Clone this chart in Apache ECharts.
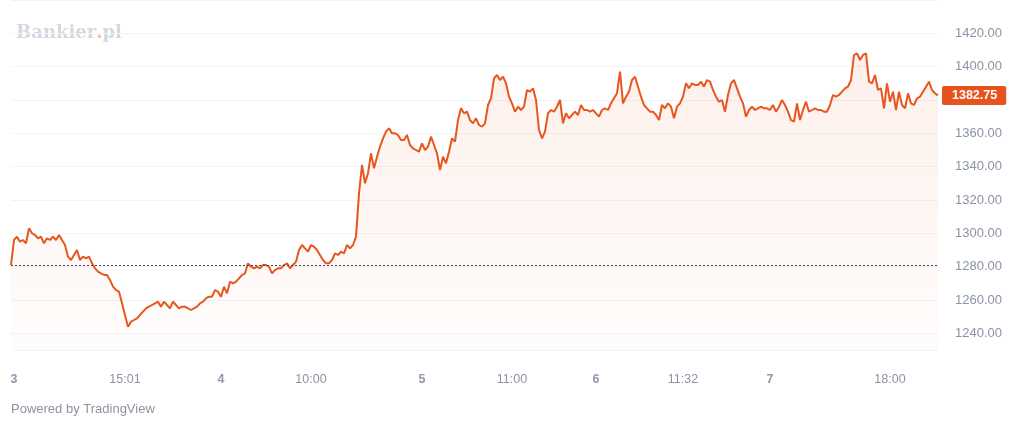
<!DOCTYPE html>
<html>
<head>
<meta charset="utf-8">
<script src="https://cdn.jsdelivr.net/npm/echarts@6/dist/echarts.min.js"></script>
<style>
  html, body { margin: 0; padding: 0; background: #fff; }
  #chart { width: 1024px; height: 425px; }
</style>
</head>
<body>
<div id="chart"></div>
<script>
// price path, 5 sessions
var prices = [
  1281, 1296, 1298, 1295, 1296, 1294, 1303, 1300, 1299, 1297,
  1298, 1294, 1297, 1296, 1298, 1296, 1299, 1296, 1293, 1286,
  1284, 1287, 1290, 1284, 1286, 1285, 1286, 1282, 1279, 1277,
  1276, 1275, 1275, 1272, 1268, 1266, 1265, 1258, 1251, 1244,
  1247, 1248, 1249, 1251, 1253, 1255, 1256, 1257, 1258, 1259,
  1256, 1259, 1257, 1255, 1259, 1257, 1255, 1256, 1256, 1255,
  1254, 1255, 1256, 1258, 1259, 1261, 1262, 1262, 1266, 1265,
  1262, 1268, 1264, 1271, 1270, 1271, 1273, 1275, 1276, 1282,
  1280, 1279, 1280, 1279, 1281, 1281, 1280, 1276, 1278, 1279,
  1279, 1281, 1282, 1279, 1281, 1283, 1290, 1293, 1291, 1289,
  1293, 1292, 1290, 1287, 1284, 1282, 1282, 1284, 1288, 1287,
  1289, 1288, 1293, 1291, 1293, 1298, 1324, 1341, 1330, 1336,
  1348, 1339, 1346, 1352, 1357, 1361, 1363, 1360, 1360, 1359,
  1356, 1356, 1359, 1353, 1351, 1350, 1349, 1354, 1350, 1352,
  1358, 1353, 1348, 1338, 1346, 1342, 1349, 1357, 1355, 1368,
  1375, 1372, 1373, 1368, 1366, 1369, 1365, 1364, 1366, 1377,
  1381, 1393, 1395, 1392, 1394, 1390, 1382, 1378, 1373, 1376,
  1374, 1376, 1386, 1385, 1387, 1380, 1362, 1357, 1361, 1372,
  1374, 1373, 1376, 1380, 1366, 1372, 1369, 1371, 1373, 1371,
  1377, 1374, 1374, 1373, 1374, 1372, 1370, 1374, 1375, 1374,
  1378, 1381, 1384, 1397, 1378, 1382, 1385, 1392, 1394, 1388,
  1382, 1377, 1375, 1373, 1373, 1371, 1368, 1377, 1375, 1378,
  1376, 1369, 1376, 1378, 1382, 1390, 1387, 1390, 1389, 1389,
  1391, 1388, 1392, 1391, 1386, 1382, 1379, 1380, 1373, 1383,
  1390, 1392, 1387, 1382, 1378, 1370, 1374, 1376, 1374, 1375,
  1376, 1375, 1375, 1374, 1377, 1373, 1376, 1380, 1377, 1373,
  1368, 1367, 1378, 1368, 1374, 1379, 1373, 1374, 1375, 1374,
  1374, 1373, 1373, 1377, 1383, 1382, 1383, 1385, 1387, 1388,
  1392, 1407, 1408, 1404, 1407, 1408, 1391, 1390, 1395, 1386,
  1387, 1375, 1390, 1379, 1385, 1374, 1385, 1377, 1375, 1384,
  1378, 1377, 1381, 1382, 1385, 1388, 1391, 1386, 1384, 1382.75
];
var prevClose = 1281;

// time scale labels: which point they sit under, and the text
var tickIdx = [1, 38, 70, 100, 137, 167, 195, 224, 253, 293];
var tickText = ['3', '15:01', '4', '10:00', '5', '11:00', '6', '11:32', '7', '18:00'];
var dayLabels = ['3', '4', '5', '6', '7'];

var categories = prices.map(function (v, i) {
  var k = tickIdx.indexOf(i);
  return k >= 0 ? tickText[k] : '';
});
var lastPrice = prices[prices.length - 1];

var axisGrey = '#8a93a5';
var lineColor = '#e8561f';

var chart = echarts.init(document.getElementById('chart'));
chart.setOption({
  animation: false,
  backgroundColor: '#ffffff',
  grid: { left: 11, right: 86, top: 0, bottom: 75 },
  graphic: [
    {
      type: 'text', left: 16, top: 24,
      style: {
        text: '{b|Bankier}{d|.}{b|pl}',
        rich: {
          b: { fontFamily: 'DejaVu Serif', fontWeight: 'bold', fontSize: 18, fill: '#d4d9e1' },
          d: { fontFamily: 'DejaVu Serif', fontWeight: 'bold', fontSize: 18, fill: '#f3b9a3' }
        }
      }
    },
    {
      type: 'text', left: 11, top: 403,
      style: {
        text: 'Powered by TradingView',
        fontFamily: 'Liberation Sans', fontSize: 13, fill: '#8c93a0'
      }
    }
  ],
  xAxis: {
    type: 'category',
    data: categories,
    boundaryGap: false,
    axisLine: { show: false },
    axisTick: { show: false },
    splitLine: { show: false },
    axisLabel: {
      interval: function (i) { return tickIdx.indexOf(i) >= 0; },
      margin: 23,
      color: axisGrey,
      fontFamily: 'Liberation Sans',
      fontSize: 12.5,
      formatter: function (v) {
        return dayLabels.indexOf(v) >= 0 ? '{day|' + v + '}' : v;
      },
      rich: {
        day: { fontWeight: 'bold', color: '#8f98a9', fontFamily: 'Liberation Sans', fontSize: 12.5 }
      }
    }
  },
  yAxis: {
    type: 'value',
    position: 'right',
    min: 1230,
    max: 1440,
    minInterval: 20,
    maxInterval: 20,
    axisLine: { show: false },
    axisTick: { show: false },
    splitLine: { lineStyle: { color: '#f1f3f6', width: 1 } },
    axisLabel: {
      showMinLabel: false,
      showMaxLabel: false,
      margin: 17,
      color: axisGrey,
      fontFamily: 'Liberation Sans',
      fontSize: 13,
      formatter: function (v) { return v.toFixed(2); }
    }
  },
  series: [{
    type: 'line',
    data: prices,
    symbol: 'none',
    lineStyle: { color: lineColor, width: 2 },
    areaStyle: {
      color: new echarts.graphic.LinearGradient(0, 0, 0, 1, [
        { offset: 0, color: 'rgba(232,86,31,0.13)' },
        { offset: 1, color: 'rgba(232,86,31,0.02)' }
      ])
    },
    markLine: {
      silent: true,
      symbol: ['none', 'none'],
      data: [
        {
          yAxis: prevClose,
          lineStyle: { color: '#3e4b5e', width: 1, type: [2, 2] },
          label: { show: false }
        },
        {
          yAxis: lastPrice,
          lineStyle: { color: 'rgba(0,0,0,0)', width: 0 },
          label: {
            show: true,
            position: 'end',
            distance: 4,
            formatter: lastPrice.toFixed(2),
            backgroundColor: '#e6531f',
            color: '#ffffff',
            fontFamily: 'Liberation Sans',
            fontSize: 12.5,
            fontWeight: 'bold',
            lineHeight: 14,
            padding: [3, 9, 2, 10],
            borderRadius: 2
          }
        }
      ]
    }
  }]
});
</script>
</body>
</html>
